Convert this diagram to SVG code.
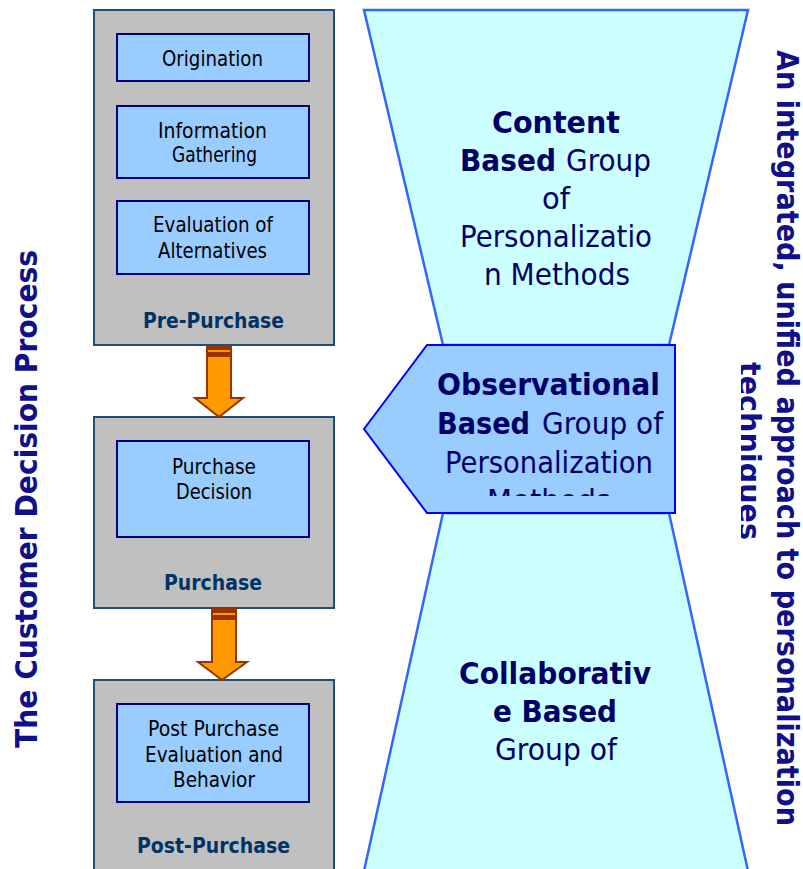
<svg xmlns="http://www.w3.org/2000/svg" width="803" height="869" viewBox="0 0 803 869">
  <style>
    text { font-family: "DejaVu Sans", Verdana, sans-serif; }
    .stage { fill: #c0c0c0; stroke: #1f4e79; stroke-width: 2; }
    .step { fill: #99ccff; stroke: #000080; stroke-width: 2; }
    .stepText { font-size: 20.5px; fill: #000000; }
    .stageLabel { font-size: 20.5px; font-weight: bold; fill: #003366; }
    .arrow { fill: #ff9900; stroke: #993300; stroke-width: 2; stroke-linejoin: miter; }
    .band { fill: #993300; }
    .funnel { fill: #ccffff; stroke: #3366ff; stroke-width: 2.5; stroke-linejoin: miter; }
    .tag { fill: #99ccff; stroke: #0000ff; stroke-width: 2; }
    .groupText { font-size: 31px; fill: #000066; }
    .b { font-weight: bold; }
    .sideTitle { font-size: 31px; font-weight: bold; fill: #10108a; }
  </style>
  <defs>
    <clipPath id="tagClip"><rect x="360" y="345" width="320" height="151"/></clipPath>
    <clipPath id="lowerClip"><rect x="360" y="513" width="400" height="263"/></clipPath>
    <clipPath id="sideClip"><rect x="741" y="0" width="62" height="869"/></clipPath>
  </defs>

  <!-- Personalization method groups (hourglass + pointer) -->
  <g id="content-based">
    <polygon class="funnel" points="364,10 748,10 669,345 443,345"/>
    <text class="groupText b" x="492" y="133" textLength="128" lengthAdjust="spacingAndGlyphs">Content</text>
    <text class="groupText" y="171"><tspan class="b" x="460" textLength="96" lengthAdjust="spacingAndGlyphs">Based</tspan><tspan x="566" textLength="85" lengthAdjust="spacingAndGlyphs">Group</tspan></text>
    <text class="groupText" x="542" y="209" textLength="28" lengthAdjust="spacingAndGlyphs">of</text>
    <text class="groupText" x="460" y="247" textLength="192" lengthAdjust="spacingAndGlyphs">Personalizatio</text>
    <text class="groupText" x="484" y="285" textLength="146" lengthAdjust="spacingAndGlyphs">n Methods</text>
  </g>

  <g id="collaborative-based">
    <polygon class="funnel" points="443,513 669,513 750,880 362,880"/>
    <text class="groupText b" x="459" y="684" textLength="192" lengthAdjust="spacingAndGlyphs">Collaborativ</text>
    <text class="groupText b" x="493" y="722" textLength="124" lengthAdjust="spacingAndGlyphs">e Based</text>
    <text class="groupText" x="495" y="760" textLength="122" lengthAdjust="spacingAndGlyphs">Group of</text>
    <g clip-path="url(#lowerClip)">
      <text class="groupText" x="445" y="799" textLength="208" lengthAdjust="spacingAndGlyphs">Personalization</text>
    </g>
  </g>

  <g id="observational-based">
    <polygon class="tag" points="364,429 427,345 675,345 675,513 427,513"/>
    <g clip-path="url(#tagClip)">
      <text class="groupText b" x="437" y="395" textLength="223" lengthAdjust="spacingAndGlyphs">Observational</text>
      <text class="groupText" y="434"><tspan class="b" x="437" textLength="93" lengthAdjust="spacingAndGlyphs">Based</tspan><tspan x="542" textLength="121" lengthAdjust="spacingAndGlyphs">Group of</tspan></text>
      <text class="groupText" x="445" y="473" textLength="208" lengthAdjust="spacingAndGlyphs">Personalization</text>
      <text class="groupText" x="487" y="511" textLength="124" lengthAdjust="spacingAndGlyphs">Methods</text>
    </g>
  </g>

  <!-- Customer decision stages -->
  <g id="pre-purchase">
    <rect class="stage" x="94" y="10" width="240" height="335"/>
    <rect class="step" x="117" y="34" width="192" height="47"/>
    <text class="stepText" x="162" y="66" textLength="101" lengthAdjust="spacingAndGlyphs">Origination</text>
    <rect class="step" x="117" y="106" width="192" height="72"/>
    <text class="stepText" x="158" y="138" textLength="109" lengthAdjust="spacingAndGlyphs">Information</text>
    <text class="stepText" x="172" y="162" textLength="85" lengthAdjust="spacingAndGlyphs">Gathering</text>
    <rect class="step" x="117" y="201" width="192" height="73"/>
    <text class="stepText" x="153" y="232" textLength="120" lengthAdjust="spacingAndGlyphs">Evaluation of</text>
    <text class="stepText" x="158" y="258" textLength="109" lengthAdjust="spacingAndGlyphs">Alternatives</text>
    <text class="stageLabel" x="143" y="328" textLength="141" lengthAdjust="spacingAndGlyphs">Pre-Purchase</text>
  </g>

  <g id="purchase">
    <rect class="stage" x="94" y="417" width="240" height="191"/>
    <rect class="step" x="117" y="441" width="192" height="96"/>
    <text class="stepText" x="172" y="474" textLength="84" lengthAdjust="spacingAndGlyphs">Purchase</text>
    <text class="stepText" x="176" y="499" textLength="76" lengthAdjust="spacingAndGlyphs">Decision</text>
    <text class="stageLabel" x="164" y="590" textLength="98" lengthAdjust="spacingAndGlyphs">Purchase</text>
  </g>

  <g id="post-purchase">
    <rect class="stage" x="94" y="680" width="240" height="200"/>
    <rect class="step" x="117" y="704" width="192" height="98"/>
    <text class="stepText" x="148" y="736" textLength="131" lengthAdjust="spacingAndGlyphs">Post Purchase</text>
    <text class="stepText" x="145" y="762" textLength="138" lengthAdjust="spacingAndGlyphs">Evaluation and</text>
    <text class="stepText" x="173" y="787" textLength="82" lengthAdjust="spacingAndGlyphs">Behavior</text>
    <text class="stageLabel" x="137" y="853" textLength="153" lengthAdjust="spacingAndGlyphs">Post-Purchase</text>
  </g>

  <!-- Flow arrows between stages -->
  <g id="connectors">
    <polygon class="arrow" points="207,346 231,346 231,398 243,398 219,417 195,398 207,398"/>
    <rect class="band" x="206" y="345" width="26" height="5"/>
    <rect class="band" x="206" y="352" width="26" height="5"/>
    <polygon class="arrow" points="212,609 236,609 236,662 247,662 222,680 198,662 212,662"/>
    <rect class="band" x="211" y="608" width="26" height="5"/>
    <rect class="band" x="211" y="615" width="26" height="5"/>
  </g>

  <!-- Side titles -->
  <g id="decision-process-title">
    <text class="sideTitle" transform="translate(37,748) rotate(-90)" x="0" y="0" textLength="498" lengthAdjust="spacingAndGlyphs">The Customer Decision Process</text>
  </g>
  <g id="integrated-approach-title">
    <text class="sideTitle" transform="translate(777,50) rotate(90)" x="0" y="0" textLength="776" lengthAdjust="spacingAndGlyphs">An integrated, unified approach to personalization</text>
    <g clip-path="url(#sideClip)">
      <text class="sideTitle" transform="translate(739,362) rotate(90)" x="0" y="0" textLength="178" lengthAdjust="spacingAndGlyphs">techniques</text>
    </g>
  </g>
</svg>
